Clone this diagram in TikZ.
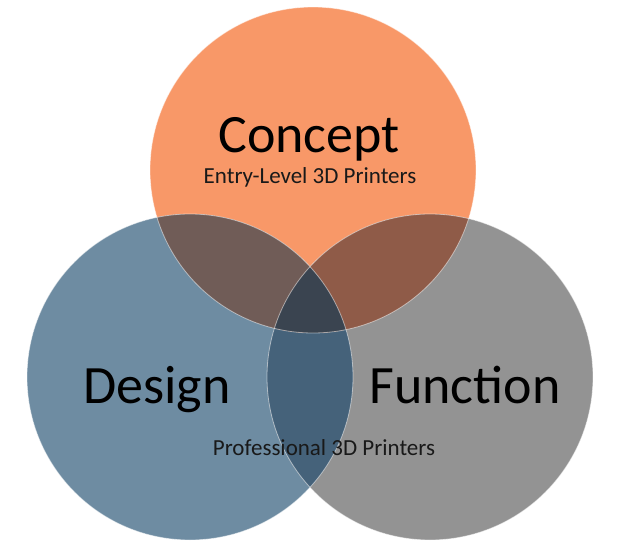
\documentclass[tikz,border=0pt]{standalone}
\usepackage{fontspec}
\setmainfont{Carlito}
\usetikzlibrary{positioning}
\definecolor{concept}{HTML}{F89868}
\definecolor{design}{HTML}{6E8CA2}
\definecolor{function}{HTML}{939393}
\definecolor{condes}{HTML}{705C57}
\definecolor{confun}{HTML}{8F5B48}
\definecolor{desfun}{HTML}{45627A}
\definecolor{allthree}{HTML}{3A4450}
\tikzstyle{venn} = [circle, minimum size=326pt, inner sep=0pt]
\tikzstyle{rim} = [white, opacity=0.5, line width=0.8pt]
\tikzstyle{big} = [anchor=base, inner sep=0pt, font=\fontsize{54}{54}\selectfont, text=black]
\tikzstyle{small} = [anchor=base, inner sep=0pt, font=\fontsize{23}{23}\selectfont, text=black!90]
\begin{document}
\begin{tikzpicture}[x=1pt, y=-1pt]
  \useasboundingbox (0,0) rectangle (625,546);
  \node (CONC) [venn, fill=concept] at (313,170) {};
  \node (DESI) [venn, fill=design] at (190,377) {};
  \node (FUNC) [venn, fill=function] at (430,377) {};

  % overlaps
  \begin{scope}
    \clip (DESI.center) circle (163pt);
    \fill [desfun] (FUNC.center) circle (163pt);
  \end{scope}
  \begin{scope}
    \clip (CONC.center) circle (163pt);
    \fill [condes] (DESI.center) circle (163pt);
    \fill [confun] (FUNC.center) circle (163pt);
    \clip (DESI.center) circle (163pt);
    \fill [allthree] (FUNC.center) circle (163pt);
  \end{scope}
  \draw [rim] (CONC.center) circle (163pt);
  \draw [rim] (DESI.center) circle (163pt);
  \draw [rim] (FUNC.center) circle (163pt);

  \node (CONCT) [big] at (309,152) {Concept};
  \node (ENTRY) [small] at (310,183) {Entry-Level 3D Printers};
  \node (DESIT) [big] at (157,403) {Design};
  \node (FUNCT) [big] at (465,403) {Function};
  \node (PROF) [small] at (324,455) {Professional 3D Printers};
\end{tikzpicture}
\end{document}
